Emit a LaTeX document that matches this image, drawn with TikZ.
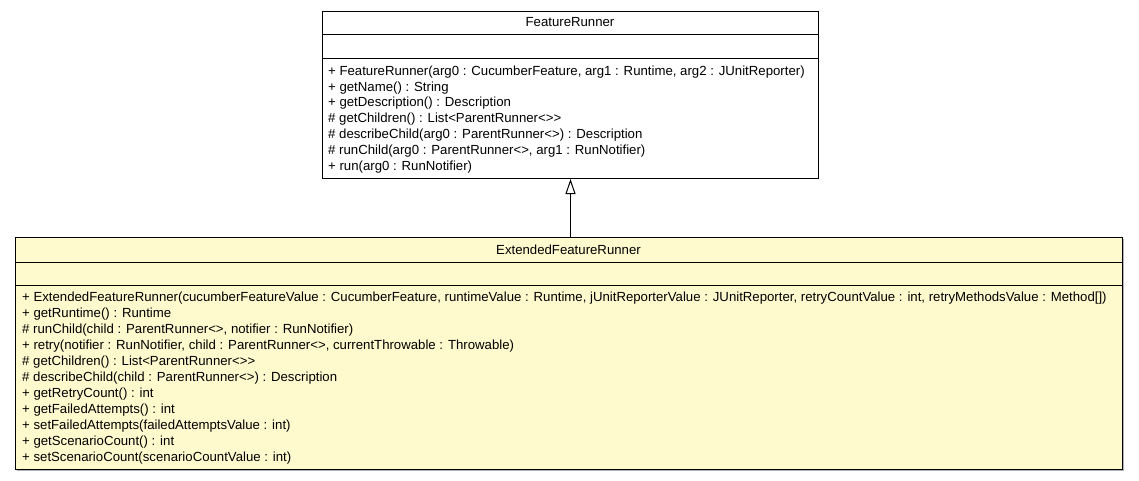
\documentclass[tikz,border=0pt]{standalone}
\usepackage{fontspec}
\setmainfont{Liberation Sans}
\usetikzlibrary{arrows.meta}
\definecolor{classfill}{RGB}{255,249,206}
\tikzset{
  classbox/.style={draw=black,line width=1pt,anchor=north west,inner sep=0pt},
  classname/.style={inner sep=0pt,font=\fontsize{13.2}{15.8}\selectfont},
  members/.style={anchor=north west,inner sep=0pt,align=left,font=\fontsize{13.2}{15.8}\selectfont},
  extends/.style={line width=1pt,-{Triangle[open,length=15pt,width=10pt]}}
}
\begin{document}
\begin{tikzpicture}[x=1pt,y=-1pt]
\useasboundingbox (0,0) rectangle (1139,480);
% superclass
\node[classbox,minimum width=496pt,minimum height=167pt] (fr) at (322,11) {};
\draw[line width=1pt] (322,34)--(818,34);
\draw[line width=1pt] (322,58)--(818,58);
\node[classname] (frname) at (570,22.5) {FeatureRunner};
\node[members] (frops) at (328,65.6) {+ FeatureRunner(arg0 : CucumberFeature, arg1 : Runtime, arg2 : JUnitReporter)\\
+ getName() : String\\
+ getDescription() : Description\\
\# getChildren() : List<ParentRunner<>{}>\\
\# describeChild(arg0 : ParentRunner<>) : Description\\
\# runChild(arg0 : ParentRunner<>, arg1 : RunNotifier)\\
+ run(arg0 : RunNotifier)};
% subclass
\fill[black!30] (17,239) rectangle (1124,471);
\node[classbox,fill=classfill,minimum width=1107pt,minimum height=232pt] (efr) at (15,237) {};
\draw[line width=1pt] (15,262)--(1122,262);
\draw[line width=1pt] (15,285)--(1122,285);
\node[classname] (efrname) at (568.5,249.5) {ExtendedFeatureRunner};
\node[members,font=\fontsize{13.2}{16}\selectfont] (efrops) at (22,291.8) {+ ExtendedFeatureRunner(cucumberFeatureValue : CucumberFeature, runtimeValue : Runtime, jUnitReporterValue : JUnitReporter, retryCountValue : int, retryMethodsValue : Method[])\\
+ getRuntime() : Runtime\\
\# runChild(child : ParentRunner<>, notifier : RunNotifier)\\
+ retry(notifier : RunNotifier, child : ParentRunner<>, currentThrowable : Throwable)\\
\# getChildren() : List<ParentRunner<>{}>\\
\# describeChild(child : ParentRunner<>) : Description\\
+ getRetryCount() : int\\
+ getFailedAttempts() : int\\
+ setFailedAttempts(failedAttemptsValue : int)\\
+ getScenarioCount() : int\\
+ setScenarioCount(scenarioCountValue : int)};
% inheritance
\draw[extends] (efr.north -| fr.south) -- (fr.south);
\end{tikzpicture}
\end{document}
